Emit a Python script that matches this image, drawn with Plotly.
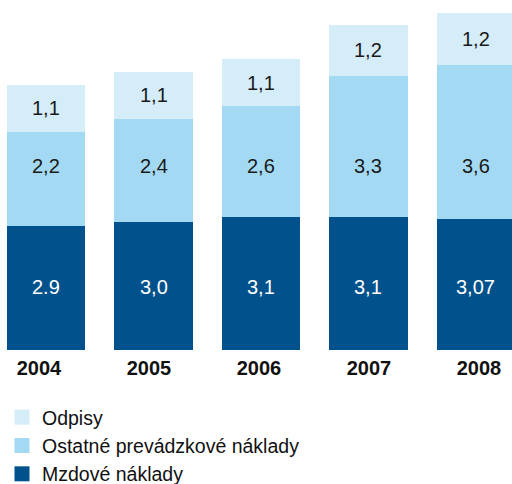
import plotly.graph_objects as go

# Costs by year (stacked): wages at the bottom, other operating costs, depreciation on top
years = ["2004", "2005", "2006", "2007", "2008"]
mzdove = [2.9, 3.0, 3.1, 3.1, 3.07]
ostatne = [2.2, 2.4, 2.6, 3.3, 3.6]
odpisy = [1.1, 1.1, 1.1, 1.2, 1.2]

mzdove_text = ["2.9", "3,0", "3,1", "3,1", "3,07"]
ostatne_text = ["2,2", "2,4", "2,6", "3,3", "3,6"]
odpisy_text = ["1,1", "1,1", "1,1", "1,2", "1,2"]

names = ["Mzdové náklady", "Ostatné prevádzkové náklady", "Odpisy"]
colors = ["#01518c", "#a3d9f2", "#d5ecf9"]

FONT = "Liberation Sans, Arial, sans-serif"

fig = go.Figure()
for vals, name, col in zip([mzdove, ostatne, odpisy], names, colors):
    fig.add_trace(go.Bar(
        x=years, y=vals, name=name, marker=dict(color=col, line=dict(width=0)),
        width=0.726, showlegend=False, hoverinfo="skip",
    ))

# legend entries as square markers, top to bottom; they live on the label axis
for name, col, grp in zip(reversed(names), reversed(colors), ["a", "b", "c"]):
    fig.add_trace(go.Scatter(
        x=[None], y=[None], mode="markers", name=name, legendgroup=grp,
        xaxis="x2",
        marker=dict(symbol="square", size=15, color=col, line=dict(width=0)),
    ))

annotations = []
for i in range(len(years)):
    # wage value, near the lower part of the dark segment
    annotations.append(dict(x=i, y=1.47, xref="x", yref="y", text=mzdove_text[i],
                            showarrow=False,
                            font=dict(family=FONT, size=20, color="#ffffff")))
    # other operating costs, at a common height across bars
    annotations.append(dict(x=i, y=4.3, xref="x", yref="y", text=ostatne_text[i],
                            showarrow=False,
                            font=dict(family=FONT, size=20, color="#1a1a1a")))
    # depreciation, centred in its segment
    annotations.append(dict(x=i, y=mzdove[i] + ostatne[i] + odpisy[i] / 2,
                            xref="x", yref="y", text=odpisy_text[i], showarrow=False,
                            font=dict(family=FONT, size=20, color="#1a1a1a")))

fig.update_layout(
    barmode="stack",
    width=512, height=484,
    margin=dict(l=0, r=0, t=0, b=134, autoexpand=False),
    plot_bgcolor="white", paper_bgcolor="white",
    font=dict(family=FONT, color="#111111"),
    xaxis=dict(
        type="category", range=[-0.428, 4.335],
        showgrid=False, zeroline=False, showline=False, ticks="",
        showticklabels=False, fixedrange=True,
    ),
    # year labels on their own, slightly wider-spaced axis
    xaxis2=dict(
        overlaying="x", side="bottom", type="linear", range=[-0.3545, 4.3],
        tickmode="array", tickvals=list(range(len(years))), ticktext=years,
        showgrid=False, zeroline=False, showline=False, ticks="",
        tickfont=dict(family=FONT, size=20, color="#111111", weight="bold"),
        ticklabelstandoff=4, fixedrange=True,
    ),
    yaxis=dict(range=[0, 8.178], visible=False, fixedrange=True),
    legend=dict(
        xref="container", yref="container",
        x=0.0039, xanchor="left", y=0.1778, yanchor="top",
        font=dict(family=FONT, size=19.5, color="#111111"),
        tracegroupgap=0, traceorder="grouped", itemsizing="trace",
        bgcolor="rgba(0,0,0,0)",
    ),
    annotations=annotations,
    showlegend=True,
)

fig.write_html("out.html")
